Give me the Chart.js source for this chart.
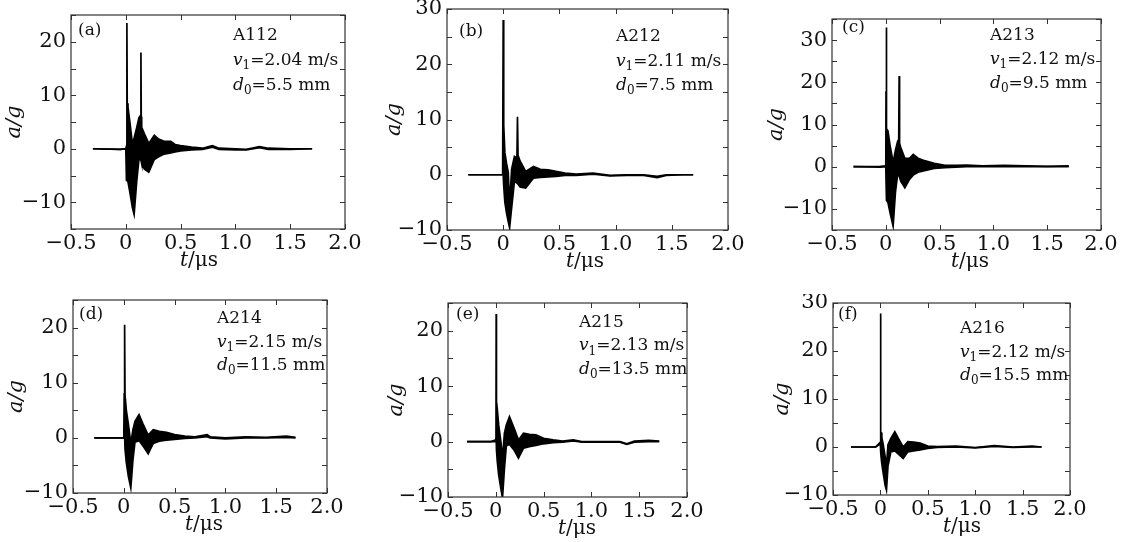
<!DOCTYPE html>
<html>
<head>
<meta charset="utf-8">
<script src="https://cdn.jsdelivr.net/npm/chart.js@4.4.0/dist/chart.umd.min.js"></script>
<style>
  html, body { margin:0; padding:0; background:#fff; }
  body { width:1129px; height:542px; position:relative; overflow:hidden; }
  .pane { position:absolute; }
</style>
</head>
<body>
<script>
// ---- DATA (time in µs, upper / lower envelope of a/g) ----
const tA  = [-0.30,-0.05,0.000,0.006,0.010,0.013,0.020,0.040,0.060,0.076,0.100,0.120,0.134,0.138,0.141,0.145,0.170,0.210,0.260,0.300,0.350,0.410,0.450,0.500,0.600,0.700,0.790,0.850,1.000,1.100,1.220,1.300,1.500,1.700];
const hiA = [0.0,-0.1,0.0,0.5,23.5,8.5,7.8,4.5,1.0,2.0,4.0,5.8,6.2,18.0,6.0,4.0,2.8,1.0,2.5,1.8,1.4,1.4,0.8,0.6,0.3,0.1,0.6,0.1,0.0,-0.1,0.4,0.1,0.0,0.0];
const loA = [0.0,-0.1,0.0,-5.9,-5.9,-6.0,-6.2,-8.5,-11.0,-12.3,-6.0,-2.0,-2.0,-2.2,-2.4,-2.8,-3.8,-4.4,-2.0,-1.5,-1.0,-0.8,-0.6,-0.4,-0.2,-0.1,0.3,-0.1,-0.2,-0.2,0.2,-0.1,-0.1,0.0];

const tB  = [-0.31,-0.10,-0.005,0.000,0.003,0.006,0.015,0.030,0.045,0.057,0.075,0.100,0.122,0.127,0.132,0.150,0.200,0.270,0.330,0.400,0.470,0.550,0.650,0.800,0.950,1.100,1.250,1.370,1.450,1.600,1.690];
const hiB = [0.0,0.0,0.0,28.0,10.5,9.0,4.0,2.0,0.5,-5.5,1.0,3.3,3.0,10.5,3.5,2.5,0.6,1.5,1.0,0.9,0.6,0.3,0.1,0.3,-0.1,0.0,0.0,-0.3,0.0,0.0,0.0];
const loB = [0.0,0.0,0.0,0.0,2.0,-2.0,-5.0,-7.0,-8.5,-9.6,-6.0,-1.2,-1.5,-1.6,-1.7,-2.2,-2.4,-0.6,-0.5,-0.4,-0.3,-0.1,-0.1,0.1,-0.2,-0.1,-0.1,-0.5,-0.1,0.0,0.0];

const tC  = [-0.30,-0.05,0.000,0.002,0.004,0.006,0.009,0.020,0.040,0.068,0.090,0.110,0.120,0.124,0.128,0.140,0.177,0.220,0.255,0.300,0.350,0.450,0.550,0.650,0.750,0.900,1.100,1.300,1.500,1.700];
const hiC = [0.0,0.1,0.2,17.9,17.9,33.0,9.0,8.5,5.0,1.0,4.0,6.0,6.5,21.5,5.5,4.5,2.0,2.0,2.9,2.0,1.5,0.8,0.3,0.3,0.4,0.2,0.3,0.2,0.1,0.2];
const loC = [0.0,-0.1,0.0,-3.0,-8.0,-8.0,-8.0,-8.5,-11.0,-14.1,-6.0,-1.8,-2.0,-2.2,-2.5,-3.5,-5.0,-3.0,-2.0,-1.3,-1.0,-0.4,-0.2,-0.1,0.0,0.0,0.0,0.0,0.0,0.0];

const tD  = [-0.29,-0.05,0.000,0.004,0.008,0.012,0.025,0.045,0.069,0.090,0.110,0.150,0.190,0.240,0.290,0.350,0.420,0.500,0.600,0.700,0.820,0.850,1.000,1.200,1.400,1.600,1.690];
const hiD = [0.0,0.0,0.0,8.0,20.5,7.8,5.0,2.5,-1.0,1.5,3.0,4.2,2.5,0.5,1.5,1.2,1.0,0.6,0.3,0.2,0.6,0.2,0.0,0.2,0.1,0.3,0.1];
const loD = [0.0,0.0,0.0,0.0,0.5,-2.0,-4.5,-7.0,-9.1,-4.0,-0.8,-0.5,-1.5,-2.9,-1.0,-0.6,-0.4,-0.3,-0.1,0.0,0.2,0.0,-0.2,0.0,0.0,0.1,0.0];

const tE  = [-0.30,-0.05,0.000,0.002,0.004,0.007,0.015,0.030,0.053,0.070,0.090,0.110,0.143,0.190,0.237,0.290,0.350,0.420,0.500,0.600,0.700,0.810,0.900,1.100,1.300,1.370,1.450,1.600,1.710];
const hiE = [0.0,0.0,0.3,1.0,23.0,7.2,6.0,3.0,0.0,-3.0,1.5,3.0,4.5,2.5,0.3,1.5,1.3,1.2,0.6,0.3,0.1,0.3,0.0,0.0,0.0,-0.4,0.1,0.2,0.1];
const loE = [0.0,0.0,0.0,0.5,0.5,-1.5,-3.5,-6.0,-8.5,-10.2,-5.0,-0.8,-0.5,-1.5,-3.0,-1.2,-0.9,-0.7,-0.4,-0.2,-0.1,0.1,-0.1,-0.1,-0.1,-0.5,-0.1,0.0,0.0];

const tF  = [-0.31,-0.05,-0.010,0.000,0.002,0.004,0.007,0.015,0.030,0.050,0.064,0.080,0.110,0.152,0.190,0.240,0.290,0.350,0.420,0.500,0.600,0.800,1.000,1.200,1.400,1.600,1.700];
const hiF = [0.0,0.0,0.8,1.0,27.8,3.2,3.0,2.0,0.5,-2.0,-4.0,0.5,1.8,3.2,1.8,0.0,1.1,1.0,0.8,0.2,0.1,0.2,-0.1,0.3,0.0,0.2,0.0];
const loF = [0.0,0.0,0.5,0.5,0.5,-1.0,-2.0,-3.5,-5.5,-8.0,-9.0,-4.0,-1.0,-0.8,-1.5,-2.4,-1.0,-0.8,-0.6,-0.3,-0.1,0.0,-0.2,0.1,-0.1,0.0,0.0];

const panelTags = ["(a)","(b)","(c)","(d)","(e)","(f)"];
const specimens = ["A112","A212","A213","A214","A215","A216"];
const v1List    = ["2.04","2.11","2.12","2.15","2.13","2.12"];
const d0List    = ["5.5","7.5","9.5","11.5","13.5","15.5"];
const yMins     = [-15,-10,-15,-10,-10,-10];
const yMaxs     = [25,30,35,25,25,30];
const xMin = -0.5, xMax = 2.0, xStep = 0.5, yStep = 5;

// ---- LAYOUT (page px) ----
// box = plot area [left, top, right, bottom]; tag = [x, centreY]; note = [x, firstBaseline, lineGap]
const layout = [
  { box:[71,15,345,229],  tag:[78,31],  note:[233,40,25],   yTitleX:15,  xTitleX:199 },
  { box:[447,9,728,230],  tag:[459,32], note:[616,41,24.5], yTitleX:395, xTitleX:585 },
  { box:[832,19,1101,230],tag:[842,28], note:[990,40,24],   yTitleX:777, xTitleX:970 },
  { box:[73,300,327,493], tag:[79,315], note:[217,323,23.5],yTitleX:17,  xTitleX:204 },
  { box:[448,303,687,497],tag:[456,315],note:[579,327,23.3],yTitleX:397, xTitleX:577 },
  { box:[833,303,1070,495],tag:[838,315],note:[960,333,23.5],yTitleX:783,xTitleX:962 },
];
const series = [[tA,hiA,loA],[tB,hiB,loB],[tC,hiC,loC],[tD,hiD,loD],[tE,hiE,loE],[tF,hiF,loF]];

const PAD_L = 70, PAD_T = 9, PAD_R = 30, PAD_B = 45;
const FONT = '"DejaVu Serif", serif';
const INK = "#111";

// ---- HELPERS ----
const pts = (t, v) => t.map((x, i) => ({ x, y: v[i] }));
const minus = v => (v < 0 ? "\u2212" : "") + Math.abs(v);
const fmtX = v => v === 0 ? "0" : (v < 0 ? "\u2212" : "") + Math.abs(v).toFixed(1);
const fmtY = v => (Math.round(v) % 10 === 0) ? minus(Math.round(v)) : "";

function rich(ctx, x, y, parts, size){
  parts.forEach(p=>{
    ctx.font = (p.it ? "italic " : "") + (p.sub ? Math.round(size*0.7) : size) + "px " + FONT;
    ctx.fillText(p.s, x, y + (p.sub ? size*0.25 : 0));
    x += ctx.measureText(p.s).width;
  });
  return x;
}
function richWidth(ctx, parts, size){
  let w = 0;
  parts.forEach(p=>{
    ctx.font = (p.it ? "italic " : "") + (p.sub ? Math.round(size*0.7) : size) + "px " + FONT;
    w += ctx.measureText(p.s).width;
  });
  return w;
}

const framePlugin = {
  id: "frame",
  afterDraw(chart){
    const { ctx, chartArea: a, scales: { x, y } } = chart;
    const k = chart.options.plugins.frame.idx;
    const L = layout[k];
    const ox = L.box[0] - PAD_L, oy = L.box[1] - PAD_T;
    ctx.save();
    // border
    ctx.strokeStyle = "#333";
    ctx.lineWidth = 1.2;
    ctx.strokeRect(a.left, a.top, a.right - a.left, a.bottom - a.top);
    // inward ticks on all four sides
    ctx.lineWidth = 1;
    ctx.beginPath();
    x.ticks.forEach(t=>{
      const px = Math.round(x.getPixelForValue(t.value)) + 0.5;
      ctx.moveTo(px, a.bottom); ctx.lineTo(px, a.bottom - 5);
      ctx.moveTo(px, a.top);    ctx.lineTo(px, a.top + 5);
    });
    y.ticks.forEach(t=>{
      const py = Math.round(y.getPixelForValue(t.value)) + 0.5;
      ctx.moveTo(a.left, py);  ctx.lineTo(a.left + 5, py);
      ctx.moveTo(a.right, py); ctx.lineTo(a.right - 5, py);
    });
    ctx.stroke();

    ctx.fillStyle = INK;
    // panel tag
    ctx.textBaseline = "middle";
    ctx.font = "17px " + FONT;
    ctx.fillText(panelTags[k], L.tag[0] - ox, L.tag[1] - oy);
    // specimen notes
    ctx.textBaseline = "alphabetic";
    const nx = L.note[0] - ox, ny = L.note[1] - oy, g = L.note[2];
    rich(ctx, nx, ny, [{ s: specimens[k] }], 17);
    rich(ctx, nx, ny + g, [{ s:"v", it:1 }, { s:"1", sub:1 }, { s:"=" + v1List[k] + " m/s" }], 17);
    rich(ctx, nx, ny + 2*g, [{ s:"d", it:1 }, { s:"0", sub:1 }, { s:"=" + d0List[k] + " mm" }], 17);
    // x title
    const xt = [{ s:"t", it:1 }, { s:"/\u03bcs" }];
    const w = richWidth(ctx, xt, 20);
    rich(ctx, L.xTitleX - ox - w/2, a.bottom + 37, xt, 20);
    // y title
    ctx.translate(L.yTitleX - ox, (a.top + a.bottom) / 2);
    ctx.rotate(-Math.PI/2);
    ctx.textAlign = "center";
    ctx.textBaseline = "middle";
    ctx.font = "italic 21px " + FONT;
    ctx.fillText("a/g", 0, 0);
    ctx.restore();
  }
};

// ---- BUILD ----
layout.forEach((L, k)=>{
  const [l, t, r, b] = L.box;
  const W = (r - l) + PAD_L + PAD_R, H = (b - t) + PAD_T + PAD_B;
  const div = document.createElement("div");
  div.className = "pane";
  div.style.left = (l - PAD_L) + "px";
  div.style.top = (t - PAD_T) + "px";
  div.style.width = W + "px";
  div.style.height = H + "px";
  const cv = document.createElement("canvas");
  cv.width = W; cv.height = H;
  cv.style.width = W + "px"; cv.style.height = H + "px";
  div.appendChild(cv);
  document.body.appendChild(div);

  const [ts, hi, lo] = series[k];
  new Chart(cv.getContext("2d"), {
    type: "line",
    data: {
      datasets: [
        { data: pts(ts, hi), borderColor:"#000", backgroundColor:"#000", borderWidth:1.7, pointRadius:0, tension:0, fill:"+1" },
        { data: pts(ts, lo), borderColor:"#000", backgroundColor:"#000", borderWidth:1.7, pointRadius:0, tension:0, fill:false }
      ]
    },
    options: {
      responsive: false,
      animation: false,
      events: [],
      layout: { padding: { left:0, top:PAD_T, right:PAD_R, bottom:0 } },
      plugins: { legend:{ display:false }, tooltip:{ enabled:false }, frame:{ idx:k } },
      scales: {
        x: {
          type: "linear", min: xMin, max: xMax,
          grid: { display:false, drawTicks:false }, border: { display:false },
          ticks: { stepSize:xStep, autoSkip:false, maxRotation:0, padding:2, color:INK, font:{ family:FONT, size:21 }, callback: fmtX },
          afterFit: s => { s.height = PAD_B; s.paddingLeft = 0; s.paddingRight = 0; }
        },
        y: {
          type: "linear", min: yMins[k], max: yMaxs[k],
          grid: { display:false, drawTicks:false }, border: { display:false },
          ticks: { stepSize:yStep, autoSkip:false, padding:5, color:INK, font:{ family:FONT, size:21 }, callback: fmtY },
          afterFit: s => { s.width = PAD_L; s.paddingTop = 0; s.paddingBottom = 0; }
        }
      }
    },
    plugins: [framePlugin]
  });
});
</script>
</body>
</html>
